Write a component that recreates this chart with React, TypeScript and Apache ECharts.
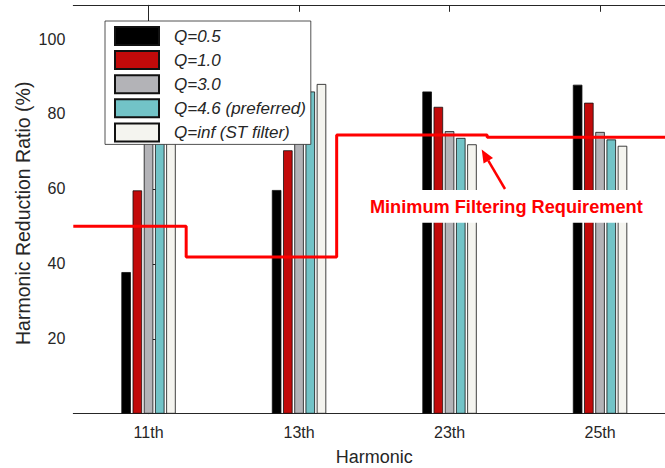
import React, { useEffect, useRef } from "react";
import * as echarts from "echarts";

// ---- data ----
const categories = ["11th", "13th", "23th", "25th"];
const seriesNames = ["Q=0.5", "Q=1.0", "Q=3.0", "Q=4.6 (preferred)", "Q=inf (ST filter)"];
const q05 = [37.8, 59.7, 86.0, 87.8];
const q10 = [59.6, 70.3, 81.9, 83.0];
const q30 = [76.0, 81.0, 75.4, 75.2];
const q46 = [80.0, 86.0, 73.6, 73.2];
const qInf = [84.0, 88.0, 71.9, 71.5];
const seriesValues = [q05, q10, q30, q46, qInf];
const seriesColors = ["#000000", "#c20a0a", "#b3b3b7", "#72c3c7", "#f4f4ef"];
// minimum requirement step line (x in category index units)
const reqX = [-0.5, 0.25, 1.25, 2.25, 3.5];
const reqY = [50, 41.8, 74.4, 73.8, 73.8];
const yTickValues = [20, 40, 60, 80, 100];
const annotationText = "Minimum Filtering Requirement";
const xTitle = "Harmonic";
const yTitle = "Harmonic Reduction Ratio (%)";

const FONT = "'Liberation Sans', Arial, Helvetica, sans-serif";
const AX = "#262626";

export default function App() {
  const ref = useRef<HTMLDivElement>(null);

  useEffect(() => {
    if (!ref.current) return;
    const chart = echarts.init(ref.current, undefined, { renderer: "svg" });

    const barSeries = seriesNames.map((name, i) => ({
      name,
      type: "bar",
      xAxisIndex: 0,
      yAxisIndex: 0,
      barWidth: 9.5,
      barGap: "18%",
      z: 2,
      itemStyle: {
        color: seriesColors[i],
        borderColor: "#111111",
        borderWidth: 0.8,
      },
      data: seriesValues[i],
    }));

    // arrow geometry (annotation)
    const tip = [481.7, 149.5];
    const tail = [505, 189];
    const dx = tip[0] - tail[0];
    const dy = tip[1] - tail[1];
    const len = Math.sqrt(dx * dx + dy * dy);
    const ux = dx / len, uy = dy / len;
    const headLen = 13, headHalf = 5.5;
    const bx = tip[0] - headLen * ux, by = tip[1] - headLen * uy;
    const nx = -uy, ny = ux;

    chart.setOption({
      animation: false,
      textStyle: { fontFamily: FONT },
      grid: {
        left: 73.3,
        right: 0.7,
        top: 5.3,
        bottom: 468 - 413.7,
        containLabel: false,
        outerBoundsMode: "none",
      },
      legend: {
        data: seriesNames,
        orient: "vertical",
        left: 105,
        top: 21,
        padding: [5, 5, 2, 9],
        itemWidth: 44,
        itemHeight: 18,
        itemGap: 4.1,
        icon: "rect",
        backgroundColor: "#ffffff",
        borderColor: AX,
        borderWidth: 0.8,
        textStyle: {
          fontFamily: FONT,
          fontSize: 17,
          lineHeight: 18,
          fontStyle: "italic",
          color: AX,
          padding: [0, 0, 0, 10],
        },
        z: 10,
      },
      xAxis: [
        {
          type: "category",
          data: categories,
          position: "bottom",
          boundaryGap: true,
          name: xTitle,
          nameLocation: "middle",
          nameGap: 34.5,
          nameTextStyle: { fontFamily: FONT, fontSize: 18, color: AX },
          axisLine: { show: true, lineStyle: { color: AX, width: 1 } },
          axisTick: { show: true, inside: true, alignWithLabel: true, length: 6.5, lineStyle: { color: AX } },
          axisLabel: { fontFamily: FONT, fontSize: 16, color: AX, margin: 11 },
          splitLine: { show: false },
        },
        {
          type: "category",
          data: categories,
          position: "top",
          boundaryGap: true,
          axisLine: { show: true, lineStyle: { color: AX, width: 1 } },
          axisTick: { show: true, inside: true, alignWithLabel: true, length: 6.5, lineStyle: { color: AX } },
          axisLabel: { show: false },
          splitLine: { show: false },
        },
        {
          type: "value",
          min: -0.5,
          max: 3.5,
          show: false,
          splitLine: { show: false },
        },
      ],
      yAxis: [
        {
          type: "value",
          min: 0,
          max: 109,
          interval: 20,
          axisLine: { show: true, lineStyle: { color: AX, width: 1 } },
          axisTick: { show: true, inside: true, length: 7, lineStyle: { color: AX } },
          axisLabel: {
            fontFamily: FONT,
            fontSize: 16,
            color: AX,
            margin: 8,
            showMinLabel: false,
            showMaxLabel: false,
            formatter: (v: number) => (yTickValues.indexOf(v) >= 0 ? String(v) : ""),
          },
          splitLine: { show: false },
        },
      ],
      series: [
        ...barSeries,
        {
          name: "Minimum Filtering Requirement",
          type: "line",
          xAxisIndex: 2,
          yAxisIndex: 0,
          step: "end",
          symbol: "none",
          z: 5,
          lineStyle: { color: "#ff0000", width: 3 },
          data: reqX.map((x, i) => [x, reqY[i]]),
        },
      ],
      graphic: [
        {
          type: "text",
          z: 50,
          x: 23.4,
          y: 213.3,
          rotation: Math.PI / 2,
          style: {
            text: yTitle,
            font: `19.5px ${FONT}`,
            fill: AX,
            align: "center",
            verticalAlign: "middle",
          },
        },
        {
          type: "rect",
          z: 100,
          shape: { x: 364, y: 190, width: 288, height: 32.7 },
          style: { fill: "#ffffff" },
        },
        {
          type: "text",
          z: 101,
          x: 506.3,
          y: 207,
          style: {
            text: annotationText,
            font: `bold 18.2px ${FONT}`,
            fill: "#ff0000",
            align: "center",
            verticalAlign: "middle",
          },
        },
        {
          type: "line",
          z: 101,
          shape: { x1: tail[0], y1: tail[1], x2: bx, y2: by },
          style: { stroke: "#ff0000", lineWidth: 2.5 },
        },
        {
          type: "polygon",
          z: 101,
          shape: {
            points: [
              [tip[0], tip[1]],
              [bx + headHalf * nx, by + headHalf * ny],
              [bx - headHalf * nx, by - headHalf * ny],
            ],
          },
          style: { fill: "#ff0000" },
        },
      ],
    });

    return () => chart.dispose();
  }, []);

  return (
    <div style={{ position: "fixed", left: 0, top: 0, width: 665, height: 468, overflow: "hidden", background: "#fff" }}>
      <div ref={ref} style={{ width: 676, height: 468 }} />
    </div>
  );
}
